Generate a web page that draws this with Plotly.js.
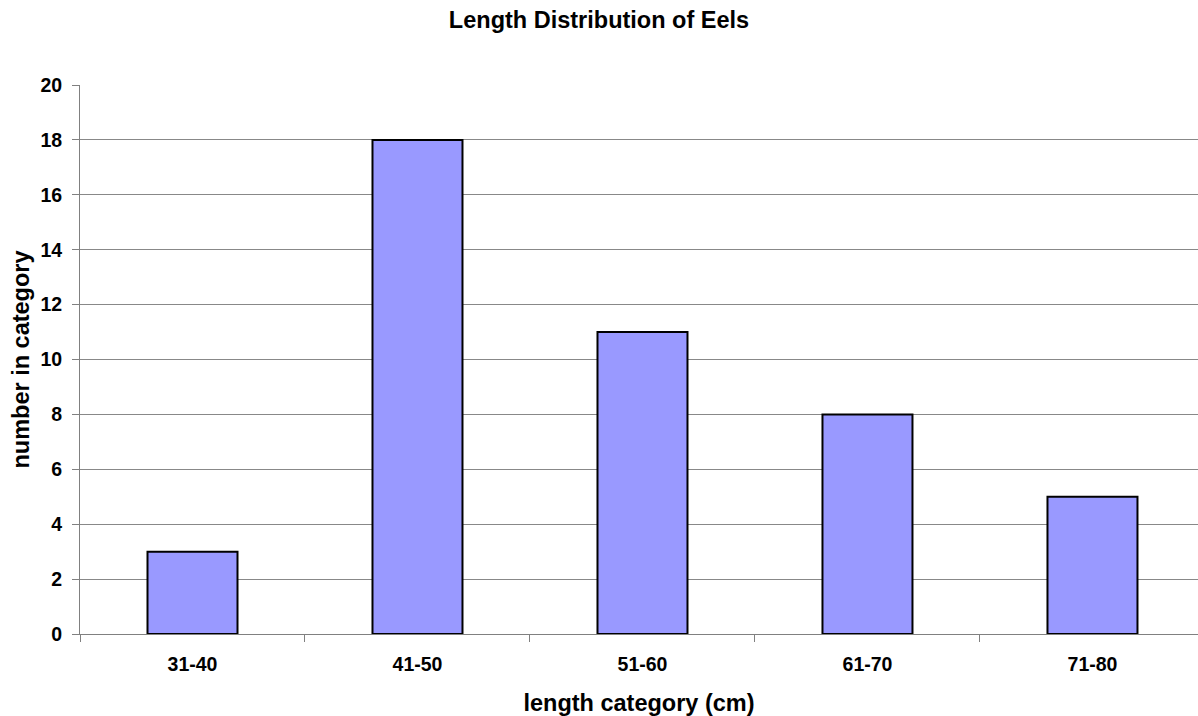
<!DOCTYPE html>
<html>
<head>
<meta charset="utf-8">
<script src="https://cdn.plot.ly/plotly-3.0.1.min.js"></script>
<style>html,body{margin:0;padding:0;background:#fff;}#chart{width:1198px;height:716px;}</style>
</head>
<body>
<div id="chart"></div>
<script>
const categories = ["31-40", "41-50", "51-60", "61-70", "71-80"];
const counts = [3, 18, 11, 8, 5];
const yTicks = [0, 2, 4, 6, 8, 10, 12, 14, 16, 18, 20];

const font = "Liberation Sans, Arial, sans-serif";
const trace = {
  type: "bar",
  x: categories,
  y: counts,
  width: 0.4,
  marker: { color: "#9999FF", line: { color: "#000000", width: 2 } },
  hoverinfo: "x+y"
};
const layout = {
  width: 1198, height: 716,
  margin: { l: 80, r: 0, t: 85, b: 82 },
  paper_bgcolor: "#ffffff", plot_bgcolor: "#ffffff",
  showlegend: false,
  title: { text: "<b>Length Distribution of Eels</b>", x: 0.5, xref: "container", xanchor: "center", y: 0.972, yanchor: "middle",
           font: { family: font, size: 23.5, color: "#000" } },
  xaxis: {
    type: "category",
    range: [-0.5, 4.469],
    tickson: "boundaries",
    ticks: "outside", ticklen: 7, tickcolor: "#808080", tickwidth: 1,
    ticklabelstandoff: 13,
    showline: true, linecolor: "#808080", linewidth: 1,
    showgrid: false, zeroline: false,
    tickfont: { family: font, size: 19.5, color: "#000", weight: "bold" },
    title: { text: "<b>length category (cm)</b>", standoff: 21, font: { family: font, size: 23.5, color: "#000" } }
  },
  yaxis: {
    range: [0, 20],
    tickvals: yTicks,
    ticks: "outside", ticklen: 7, tickcolor: "#808080", tickwidth: 1,
    ticklabelstandoff: 6,
    showline: true, linecolor: "#808080", linewidth: 1,
    showgrid: true, gridcolor: "#888888", gridwidth: 1,
    zeroline: false,
    tickfont: { family: font, size: 19.5, color: "#000", weight: "bold" },
    title: { text: "<b>number in category</b>", standoff: 4, font: { family: font, size: 23.5, color: "#000" } }
  },
  bargap: 0.6
};
Plotly.newPlot("chart", [trace], layout, { displayModeBar: false, staticPlot: true });
</script>
</body>
</html>
